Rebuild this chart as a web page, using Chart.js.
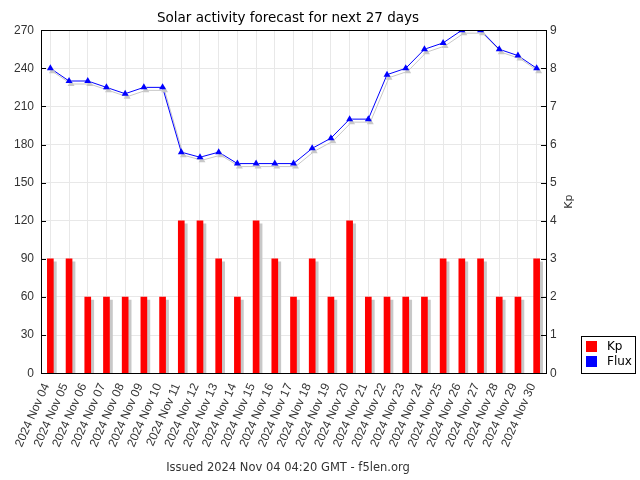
<!DOCTYPE html>
<html>
<head>
<meta charset="utf-8">
<style>
  html, body { margin: 0; padding: 0; background: #fff; }
  #wrap { width: 640px; height: 480px; }
</style>
<script src="https://cdn.jsdelivr.net/npm/chart.js@4.4.0/dist/chart.umd.min.js"></script>
</head>
<body>
<div id="wrap"><canvas id="c" width="640" height="480"></canvas></div>
<script>
'use strict';

// ---- Data ----
const days = [
  '2024 Nov 04','2024 Nov 05','2024 Nov 06','2024 Nov 07','2024 Nov 08','2024 Nov 09',
  '2024 Nov 10','2024 Nov 11','2024 Nov 12','2024 Nov 13','2024 Nov 14','2024 Nov 15',
  '2024 Nov 16','2024 Nov 17','2024 Nov 18','2024 Nov 19','2024 Nov 20','2024 Nov 21',
  '2024 Nov 22','2024 Nov 23','2024 Nov 24','2024 Nov 25','2024 Nov 26','2024 Nov 27',
  '2024 Nov 28','2024 Nov 29','2024 Nov 30',
];
const kp = [3,3,2,2,2,2,2,4,4,3,2,4,3,2,3,2,4,2,2,2,2,3,3,3,2,2,3];
const flux = [240,230,230,225,220,225,225,174,170,174,165,165,165,165,177,185,200,200,235,240,255,260,270,270,255,250,240];
const fluxTicks = [0,30,60,90,120,150,180,210,240,270];
const kpTicks = [0,1,2,3,4,5,6,7,8,9];

const FONT = 'DejaVu Sans, Verdana, sans-serif';
const NUMFONT = 'Liberation Sans, Arial, sans-serif';
const GRID = '#e8e8e8';
const TICK_TXT = '#333';

// ---- Shadows under bars / line ----
const shadowPlugin = {
  id: 'shadows',
  beforeDatasetDraw(chart, args) {
    const ctx = chart.ctx;
    ctx.save();
    ctx.shadowColor = '#c8c8c8';
    ctx.shadowBlur = 0;
    if (args.meta.type === 'bar') {
      ctx.shadowOffsetX = 3; ctx.shadowOffsetY = 3;
    } else {
      ctx.shadowOffsetX = 2; ctx.shadowOffsetY = 3;
    }
  },
  afterDatasetDraw(chart) {
    chart.ctx.restore();
  }
};

// ---- Frame, inward ticks, legend box ----
const framePlugin = {
  id: 'frame',
  afterDraw(chart) {
    const ctx = chart.ctx;
    const a = chart.chartArea;
    ctx.save();
    ctx.strokeStyle = '#000';
    ctx.lineWidth = 1;
    ctx.strokeRect(Math.round(a.left) + 0.5, Math.round(a.top) + 0.5,
      Math.round(a.right - a.left), Math.round(a.bottom - a.top));

    // inward tick marks
    ctx.beginPath();
    chart.scales.y.ticks.forEach(t => {
      const py = Math.round(chart.scales.y.getPixelForValue(t.value)) + 0.5;
      ctx.moveTo(a.left, py); ctx.lineTo(a.left + 5, py);
    });
    chart.scales.y1.ticks.forEach(t => {
      const py = Math.round(chart.scales.y1.getPixelForValue(t.value)) + 0.5;
      ctx.moveTo(a.right, py); ctx.lineTo(a.right - 5, py);
    });
    ctx.stroke();

    // right axis title
    ctx.fillStyle = TICK_TXT;
    ctx.font = '11px ' + FONT;
    ctx.textAlign = 'center';
    ctx.textBaseline = 'middle';
    ctx.translate(569, (a.top + a.bottom) / 2);
    ctx.rotate(-Math.PI / 2);
    ctx.fillText('Kp', 0, 0);
    ctx.setTransform(1, 0, 0, 1, 0, 0);

    // legend
    const lx = 581, ly = 336;
    ctx.fillStyle = '#fff';
    ctx.fillRect(lx, ly, 54, 37);
    ctx.strokeStyle = '#000';
    ctx.strokeRect(lx + 0.5, ly + 0.5, 54, 37);
    ctx.font = '12px ' + FONT;
    ctx.textAlign = 'left';
    chart.data.datasets.forEach((d, i) => {
      ctx.fillStyle = d.legendColor;
      ctx.fillRect(lx + 5, ly + 5 + i * 15, 11, 11);
      ctx.fillStyle = '#000';
      ctx.fillText(d.label, lx + 26, ly + 11 + i * 15);
    });
    ctx.restore();
  }
};

new Chart(document.getElementById('c'), {
  type: 'bar',
  data: {
    labels: days,
    datasets: [
      {
        type: 'bar',
        label: 'Kp',
        data: kp,
        yAxisID: 'y1',
        backgroundColor: '#ff0000',
        legendColor: '#ff0000',
        barThickness: 6,
        order: 2,
      },
      {
        type: 'line',
        label: 'Flux',
        data: flux,
        yAxisID: 'y',
        borderColor: '#0000ff',
        backgroundColor: '#0000ff',
        legendColor: '#0000ff',
        borderWidth: 1,
        pointStyle: 'triangle',
        pointRadius: 4,
        pointBorderWidth: 0,
        tension: 0,
        fill: false,
        order: 1,
      },
    ],
  },
  plugins: [shadowPlugin, framePlugin],
  options: {
    responsive: false,
    animation: false,
    devicePixelRatio: 1,
    layout: { padding: { left: 0, right: 64, top: 0, bottom: 0 } },
    plugins: {
      legend: { display: false },
      tooltip: { enabled: false },
      title: {
        display: true,
        text: 'Solar activity forecast for next 27 days',
        color: '#000',
        font: { family: FONT, size: 13.5, weight: 'normal' },
        padding: { top: 10, bottom: 4 },
      },
      subtitle: {
        display: true,
        position: 'bottom',
        text: 'Issued 2024 Nov 04 04:20 GMT - f5len.org',
        color: TICK_TXT,
        font: { family: FONT, size: 11.5, weight: 'normal' },
        padding: { top: 0, bottom: 5 },
      },
    },
    scales: {
      x: {
        offset: true,
        grid: { offset: false, color: GRID, drawTicks: false },
        border: { display: false },
        ticks: {
          autoSkip: false, minRotation: 66, maxRotation: 66,
          color: TICK_TXT, padding: 8, labelOffset: -4,
          font: { family: NUMFONT, size: 12 },
        },
        afterFit(s) { s.height = 88; },
      },
      y: {
        position: 'left',
        min: 0, max: 270,
        afterBuildTicks(s) { s.ticks = fluxTicks.map(v => ({ value: v })); },
        grid: { color: GRID, drawTicks: false },
        border: { display: false },
        ticks: { color: TICK_TXT, padding: 7, font: { family: NUMFONT, size: 12 } },
        afterFit(s) { s.width = 41; },
      },
      y1: {
        position: 'right',
        min: 0, max: 9,
        afterBuildTicks(s) { s.ticks = kpTicks.map(v => ({ value: v })); },
        grid: { display: false, drawTicks: false },
        border: { display: false },
        ticks: { color: TICK_TXT, padding: 4, font: { family: NUMFONT, size: 12 } },
        afterFit(s) { s.width = 30; },
      },
    },
  },
});
</script>
</body>
</html>
